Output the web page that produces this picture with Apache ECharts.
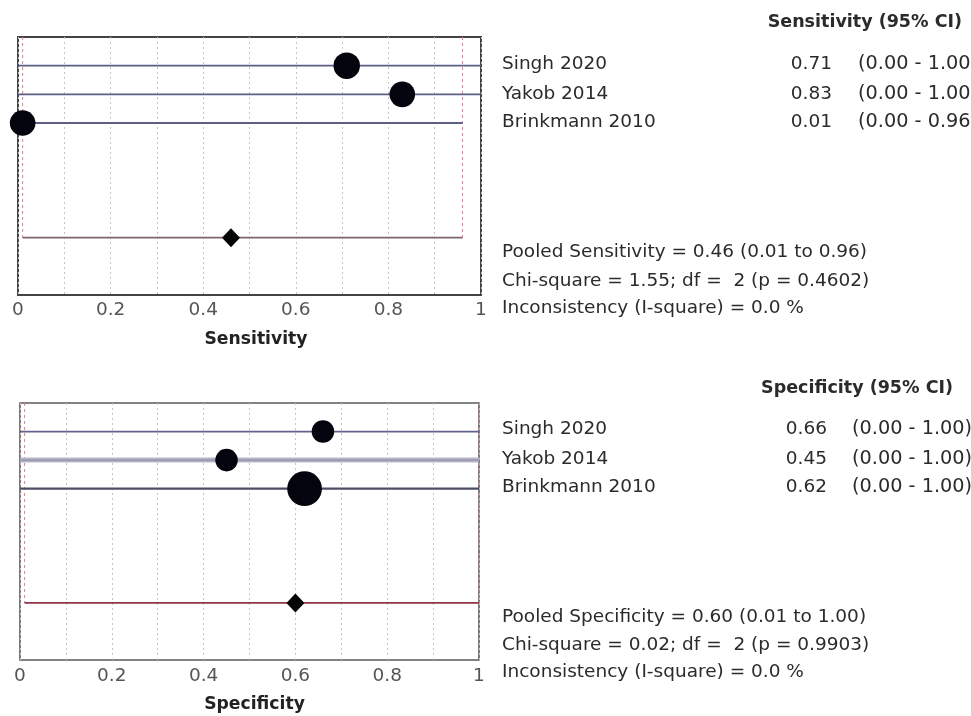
<!DOCTYPE html>
<html>
<head>
<meta charset="utf-8">
<script src="https://cdn.jsdelivr.net/npm/echarts@6/dist/echarts.min.js"></script>
<style>
  html, body { margin: 0; padding: 0; background: #fff; }
  #chart { width: 971px; height: 716px; }
</style>
</head>
<body>
<div id="chart"></div>
<script>
// Studies in the meta-analysis
const studies = ['Singh 2020', 'Yakob 2014', 'Brinkmann 2010'];

// Sensitivity per study with 95% CI, and relative study weight
const sensValue = [0.71, 0.83, 0.01];
const sensLow = [0.00, 0.00, 0.00];
const sensHigh = [1.00, 1.00, 0.96];
const sensWeight = [33, 31, 31];

// Pooled sensitivity and heterogeneity statistics
const sensPooled = [0.46, 0.01, 0.96];   // estimate, lower, upper
const sensHet = { chi: 1.55, df: 2, p: 0.4602, i2: 0.0 };

// Specificity per study with 95% CI, and relative study weight
const specValue = [0.66, 0.45, 0.62];
const specLow = [0.00, 0.00, 0.00];
const specHigh = [1.00, 1.00, 1.00];
const specWeight = [24, 24, 57];

// Pooled specificity and heterogeneity statistics
const specPooled = [0.60, 0.01, 1.00];
const specHet = { chi: 0.02, df: 2, p: 0.9903, i2: 0.0 };

// Tick values on the x axes
const xTicks = [0, 0.1, 0.2, 0.3, 0.4, 0.5, 0.6, 0.7, 0.8, 0.9, 1];

// Row slots on the hidden y axis: studies on rows 1..3, pooled estimate on row 7
const studyRows = [1, 2, 3];
const pooledRow = 7;

const FONT = 'DejaVu Sans';
const chart = echarts.init(document.getElementById('chart'));

function sizeFromWeight(w) { return 4.6 * Math.sqrt(w); }

function ciRenderer(styles) {
  return function (params, api) {
    const a = api.coord([api.value(0), api.value(2)]);
    const b = api.coord([api.value(1), api.value(2)]);
    const st = styles[params.dataIndex];
    const children = [{
      type: 'line',
      shape: { x1: a[0], y1: a[1], x2: b[0], y2: b[1] },
      style: { stroke: st.color, lineWidth: st.width }
    }];
    if (st.core) {
      children.push({
        type: 'line',
        shape: { x1: a[0], y1: a[1], x2: b[0], y2: b[1] },
        style: { stroke: st.core, lineWidth: 1.2 }
      });
    }
    return { type: 'group', children: children };
  };
}

function pooledRenderer(color, vColor) {
  return function (params, api) {
    const lo = api.value(0), hi = api.value(1), row = api.value(2);
    const a = api.coord([lo, row]);
    const b = api.coord([hi, row]);
    const at = api.coord([lo, 0]);
    const bt = api.coord([hi, 0]);
    return {
      type: 'group',
      children: [
        { type: 'line', shape: { x1: at[0], y1: at[1], x2: a[0], y2: a[1] },
          style: { stroke: vColor, lineWidth: 1, lineDash: [3, 3] } },
        { type: 'line', shape: { x1: bt[0], y1: bt[1], x2: b[0], y2: b[1] },
          style: { stroke: vColor, lineWidth: 1, lineDash: [3, 3] } },
        { type: 'line', shape: { x1: a[0], y1: a[1], x2: b[0], y2: b[1] },
          style: { stroke: color, lineWidth: 1.6 } }
      ]
    };
  };
}

function xAxisFor(gridIndex, name, margin, nameShift) {
  return {
    type: 'value', gridIndex: gridIndex, min: 0, max: 1, interval: 0.1,
    axisLine: { show: false }, axisTick: { show: false },
    axisLabel: {
      margin: margin, fontFamily: FONT, fontSize: 18.5, color: '#555',
      showMinLabel: true, showMaxLabel: true, hideOverlap: false,
      formatter: function (v) {
        const k = Math.round(v * 10);
        return k % 2 === 0 ? String(+(k / 10).toFixed(1)) : '';
      }
    },
    splitLine: { show: true, lineStyle: { color: '#c4c4c4', type: [2, 3], width: 1 } },
    name: name, nameLocation: 'middle', nameGap: 36,
    nameTextStyle: { fontFamily: FONT, fontSize: 17.2, fontWeight: 'bold', color: '#222',
      padding: [0, 0, 0, nameShift] }
  };
}

function yAxisFor(gridIndex) {
  return {
    type: 'value', gridIndex: gridIndex, min: 0, max: 9, inverse: true,
    axisLine: { show: false }, axisTick: { show: false },
    axisLabel: { show: false }, splitLine: { show: false }
  };
}

const sensCI = studies.map((s, i) => [sensLow[i], sensHigh[i], studyRows[i]]);
const specCI = studies.map((s, i) => [specLow[i], specHigh[i], studyRows[i]]);
const sensPts = studies.map((s, i) => ({ value: [sensValue[i], studyRows[i]], symbolSize: sizeFromWeight(sensWeight[i]) }));
const specPts = studies.map((s, i) => ({ value: [specValue[i], studyRows[i]], symbolSize: sizeFromWeight(specWeight[i]) }));

const sensLineStyles = [
  { color: '#5e5e86', width: 1.8 },
  { color: '#5e5e86', width: 1.8 },
  { color: '#5e5e86', width: 1.8 }
];
const specLineStyles = [
  { color: '#62628a', width: 1.8 },
  { color: '#b6b6c6', width: 5, core: '#8e8ea6' },
  { color: '#4c4c62', width: 2.2 }
];

// Right-hand text table
const textColor = '#2b2b2b';
function txt(x, y, text, opts) {
  opts = opts || {};
  return {
    type: 'text', x: x, y: y, silent: true,
    style: {
      text: text, fontFamily: FONT, fontSize: opts.size || 18.5,
      fontWeight: opts.bold ? 'bold' : 'normal',
      fill: textColor, align: opts.align || 'left', verticalAlign: 'middle'
    }
  };
}
const f2 = v => v.toFixed(2);
const graphics = [];

// Sensitivity block
graphics.push(txt(962, 22, 'Sensitivity (95% CI)', { bold: true, size: 17.5, align: 'right' }));
const sensTextY = [64, 94, 122];
studies.forEach((s, i) => {
  graphics.push(txt(502, sensTextY[i], s));
  graphics.push(txt(832, sensTextY[i], f2(sensValue[i]), { align: 'right' }));
  graphics.push(txt(858, sensTextY[i], '(' + f2(sensLow[i]) + ' - ' + f2(sensHigh[i]) + ')', { size: 19.3 }));
});
graphics.push(txt(502, 252, 'Pooled Sensitivity = ' + f2(sensPooled[0]) + ' (' + f2(sensPooled[1]) + ' to ' + f2(sensPooled[2]) + ')'));
graphics.push(txt(502, 281, 'Chi-square = ' + f2(sensHet.chi) + '; df =  ' + sensHet.df + ' (p = ' + sensHet.p.toFixed(4) + ')'));
graphics.push(txt(502, 308, 'Inconsistency (I-square) = ' + sensHet.i2.toFixed(1) + ' %'));

// Specificity block
graphics.push(txt(953, 388, 'Specificity (95% CI)', { bold: true, size: 17.5, align: 'right' }));
const specTextY = [429, 459, 487];
studies.forEach((s, i) => {
  graphics.push(txt(502, specTextY[i], s));
  graphics.push(txt(827, specTextY[i], f2(specValue[i]), { align: 'right' }));
  graphics.push(txt(852, specTextY[i], '(' + f2(specLow[i]) + ' - ' + f2(specHigh[i]) + ')', { size: 19.3 }));
});
graphics.push(txt(502, 617, 'Pooled Specificity = ' + f2(specPooled[0]) + ' (' + f2(specPooled[1]) + ' to ' + f2(specPooled[2]) + ')'));
graphics.push(txt(502, 645, 'Chi-square = ' + f2(specHet.chi) + '; df =  ' + specHet.df + ' (p = ' + specHet.p.toFixed(4) + ')'));
graphics.push(txt(502, 672, 'Inconsistency (I-square) = ' + specHet.i2.toFixed(1) + ' %'));

const dotStyle = { color: '#04040f', opacity: 1 };
const diamondStyle = { color: '#050505', opacity: 1 };

const option = {
  animation: false,
  backgroundColor: '#fff',
  grid: [
    { left: 18, top: 37, width: 463, height: 258, show: true, borderColor: '#444', borderWidth: 2, backgroundColor: 'transparent' },
    { left: 20, top: 403, width: 459, height: 257, show: true, borderColor: '#5a5a5a', borderWidth: 1.6, backgroundColor: 'transparent' }
  ],
  xAxis: [xAxisFor(0, 'Sensitivity', 6, 13), xAxisFor(1, 'Specificity', 7, 10)],
  yAxis: [yAxisFor(0), yAxisFor(1)],
  graphic: graphics,
  series: [
    { type: 'custom', xAxisIndex: 0, yAxisIndex: 0, clip: false, silent: true,
      renderItem: pooledRenderer('#7e6570', '#c98a98'),
      encode: { x: [0, 1], y: 2 },
      data: [[sensPooled[1], sensPooled[2], pooledRow]] },
    { type: 'custom', xAxisIndex: 0, yAxisIndex: 0, clip: false, silent: true,
      renderItem: ciRenderer(sensLineStyles), encode: { x: [0, 1], y: 2 }, data: sensCI },
    { type: 'scatter', xAxisIndex: 0, yAxisIndex: 0, symbol: 'circle', silent: true,
      itemStyle: dotStyle, data: sensPts, z: 5 },
    { type: 'scatter', xAxisIndex: 0, yAxisIndex: 0, symbol: 'diamond', symbolSize: [18, 19], silent: true,
      itemStyle: diamondStyle, data: [[sensPooled[0], pooledRow]], z: 5 },

    { type: 'custom', xAxisIndex: 1, yAxisIndex: 1, clip: false, silent: true,
      renderItem: pooledRenderer('#8c3646', '#c98a98'),
      encode: { x: [0, 1], y: 2 },
      data: [[specPooled[1], specPooled[2], pooledRow]] },
    { type: 'custom', xAxisIndex: 1, yAxisIndex: 1, clip: false, silent: true,
      renderItem: ciRenderer(specLineStyles), encode: { x: [0, 1], y: 2 }, data: specCI },
    { type: 'scatter', xAxisIndex: 1, yAxisIndex: 1, symbol: 'circle', silent: true,
      itemStyle: dotStyle, data: specPts, z: 5 },
    { type: 'scatter', xAxisIndex: 1, yAxisIndex: 1, symbol: 'diamond', symbolSize: [18, 19], silent: true,
      itemStyle: diamondStyle, data: [[specPooled[0], pooledRow]], z: 5 }
  ]
};
chart.setOption(option);
</script>
</body>
</html>
